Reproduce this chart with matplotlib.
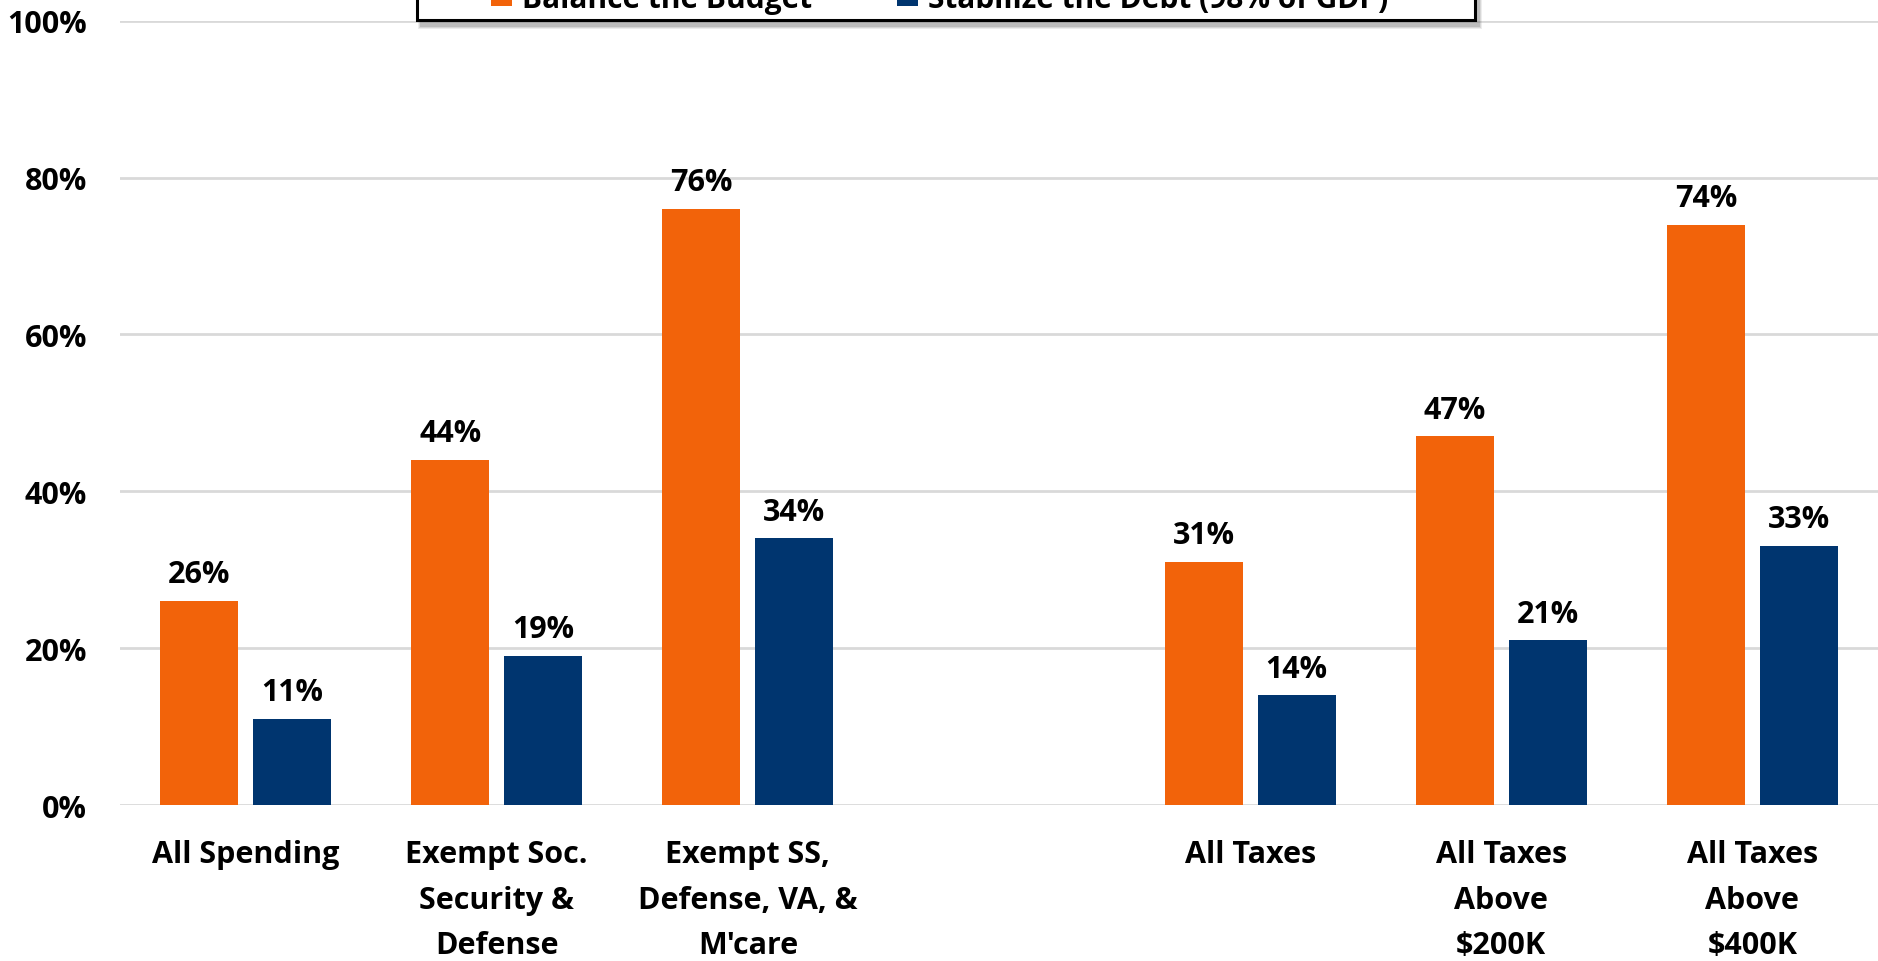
import matplotlib
matplotlib.use("Agg")
import matplotlib.pyplot as plt
from matplotlib.patches import Rectangle
import numpy as np

categories = ["All Spending", "Exempt Soc.\nSecurity &\nDefense", "Exempt SS,\nDefense, VA, &\nM'care",
              "", "All Taxes", "All Taxes\nAbove\n$200K", "All Taxes\nAbove\n$400K"]
balance = [26, 44, 76, None, 31, 47, 74]
stabilize = [11, 19, 34, None, 14, 21, 33]
series_names = ["Balance the Budget", "Stabilize the Debt (98% of GDP)"]
yticks = [0, 20, 40, 60, 80, 100]

ORANGE = "#F2630A"
NAVY = "#00356F"
FONT = ["Open Sans", "DejaVu Sans"]
W, H = 1878, 962

plt.rcParams["font.family"] = FONT
plt.rcParams["font.weight"] = "bold"

fig = plt.figure(figsize=(W / 100, H / 100), dpi=100)
ax = fig.add_axes([120 / W, 0.162, 1 - 120 / W, 0.9775 - 0.162])

x = np.arange(len(categories))
w = 0.31
off = 0.185
for i in range(len(categories)):
    if balance[i] is None:
        continue
    ax.bar(x[i] - off, balance[i], w, color=ORANGE, zorder=3)
    ax.bar(x[i] + off, stabilize[i], w, color=NAVY, zorder=3)
    ax.text(x[i] - off, balance[i] + 1.5, f"{balance[i]}%", ha="center", va="bottom",
            fontsize=22, fontweight="bold")
    ax.text(x[i] + off, stabilize[i] + 1.5, f"{stabilize[i]}%", ha="center", va="bottom",
            fontsize=22, fontweight="bold")

ax.set_xlim(-0.5, len(categories) - 0.5)
ax.set_ylim(0, 100)
ax.set_yticks(yticks)
ax.set_yticklabels([f"{t}%" for t in yticks], fontsize=22, fontweight="bold")
ax.set_xticks(x)
ax.set_xticklabels(categories, fontsize=22, fontweight="bold", linespacing=1.68)
ax.tick_params(axis="y", length=0, pad=23.5)
ax.tick_params(axis="x", length=0, pad=24.5)
ax.yaxis.grid(True, color="#d9d9d9", linewidth=2, zorder=0)
ax.set_axisbelow(True)
for s in ax.spines.values():
    s.set_visible(False)

# Legend box (runs off the top edge of the figure), drawn in pixel units
def px(xp, yp):
    return xp / W, 1 - yp / H

box_l, box_r, box_b, box_t = 417, 1475, 21, -40
for k, a in enumerate([0.10, 0.14, 0.20]):
    g = 3 - k
    fig.patches.append(Rectangle(px(box_l + 4 - g, box_b + 6 + g), (box_r - box_l + 2 * g) / W,
                                 (box_b - box_t) / H, transform=fig.transFigure,
                                 facecolor="#555555", edgecolor="none", alpha=a, zorder=5))
fig.patches.append(Rectangle(px(box_l, box_b), (box_r - box_l) / W, (box_b - box_t) / H,
                             transform=fig.transFigure, facecolor="white", edgecolor="black",
                             linewidth=2.2, zorder=6))

sq = 21
legend_items = [(491, 522, ORANGE, series_names[0]), (897, 928, NAVY, series_names[1])]
for sx, tx, col, name in legend_items:
    fig.patches.append(Rectangle(px(sx, 7), sq / W, sq / H, transform=fig.transFigure,
                                 facecolor=col, edgecolor="none", zorder=7))
    fig.text(*px(tx, 8), name, ha="left", va="baseline", fontsize=21.5, fontweight="bold",
             zorder=8)

fig.savefig("out.png", dpi=100)
